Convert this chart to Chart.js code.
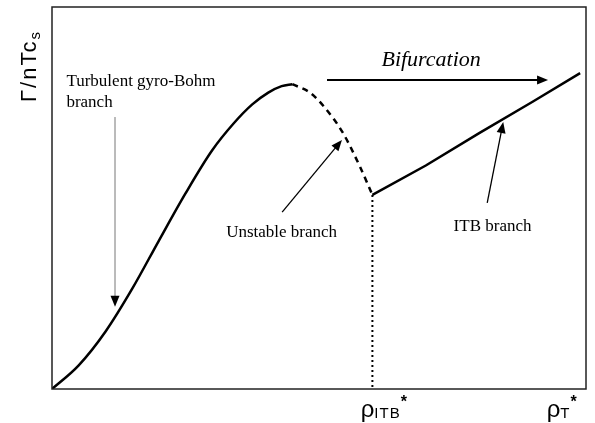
<!DOCTYPE html>
<html>
<head>
<meta charset="utf-8">
<script src="https://cdn.jsdelivr.net/npm/chart.js@4/dist/chart.umd.min.js"></script>
<style>
  html, body { margin: 0; padding: 0; background: #fff; }
  #wrap { width: 595px; height: 423px; }
</style>
</head>
<body>
<div id="wrap"><canvas id="flux"></canvas></div>
<script>
// flux vs. gradient: turbulent gyro-Bohm branch, unstable branch, ITB branch
const gyroX = [0, 0.5, 1.0, 1.5, 2.0, 2.5, 3.0, 3.4, 3.75, 4.05, 4.3, 4.5];
const gyroY = [0, 0.62, 1.50, 2.62, 3.88, 5.12, 6.25, 6.95, 7.45, 7.76, 7.93, 7.98];
const unstableX = [4.5, 4.84, 5.10, 5.45, 5.77, 6.00];
const unstableY = [7.98, 7.75, 7.38, 6.70, 5.81, 5.08];
const itbX = [6.00, 7.00, 8.00, 9.00, 9.89];
const itbY = [5.08, 5.85, 6.70, 7.52, 8.27];
const dropX = [6.00, 6.00];
const dropY = [5.08, 0];
const tickX = [6.24, 9.57];
const tickMain = ['\u03C1', '\u03C1'];
const tickSub = ['ITB', 'T'];

const pts = (xs, ys) => xs.map((x, i) => ({ x: x, y: ys[i] }));

// annotation arrows and captions (data units)
const arrows = [
  { from: [1.18, 7.12], to: [1.18, 2.15], color: '#777', width: 1 },
  { from: [4.31, 4.63], to: [5.43, 6.52], color: '#000', width: 1.3 },
  { from: [8.15, 4.87], to: [8.45, 6.99], color: '#000', width: 1.3 },
  { from: [5.15, 8.09], to: [9.29, 8.09], color: '#000', width: 2 }
];
const captions = [
  { text: 'Turbulent gyro-Bohm', at: [0.27, 8.05], font: '17px "Liberation Serif"', align: 'left' },
  { text: 'branch', at: [0.27, 7.50], font: '17px "Liberation Serif"', align: 'left' },
  { text: 'Unstable branch', at: [4.30, 4.10], font: '17px "Liberation Serif"', align: 'center' },
  { text: 'ITB branch', at: [8.25, 4.25], font: '17px "Liberation Serif"', align: 'center' },
  { text: 'Bifurcation', at: [7.10, 8.61], font: 'italic 22px "Liberation Serif"', align: 'center' }
];

function arrowHead(ctx, x1, y1, x2, y2, len, half) {
  const a = Math.atan2(y2 - y1, x2 - x1);
  ctx.beginPath();
  ctx.moveTo(x2, y2);
  ctx.lineTo(x2 - len * Math.cos(a) + half * Math.sin(a), y2 - len * Math.sin(a) - half * Math.cos(a));
  ctx.lineTo(x2 - len * Math.cos(a) - half * Math.sin(a), y2 - len * Math.sin(a) + half * Math.cos(a));
  ctx.closePath();
  ctx.fillStyle = '#000';
  ctx.fill();
}

const decor = {
  id: 'decor',
  afterDatasetsDraw(chart) {
    const ctx = chart.ctx;
    const a = chart.chartArea;
    const xs = chart.scales.x, ys = chart.scales.y;
    ctx.save();

    // frame
    ctx.strokeStyle = '#222';
    ctx.lineWidth = 1.5;
    ctx.strokeRect(a.left, a.top, a.right - a.left, a.bottom - a.top);

    // arrows
    arrows.forEach(ar => {
      const x1 = xs.getPixelForValue(ar.from[0]), y1 = ys.getPixelForValue(ar.from[1]);
      const x2 = xs.getPixelForValue(ar.to[0]), y2 = ys.getPixelForValue(ar.to[1]);
      const ang = Math.atan2(y2 - y1, x2 - x1);
      ctx.strokeStyle = ar.color;
      ctx.lineWidth = ar.width;
      ctx.beginPath();
      ctx.moveTo(x1, y1);
      ctx.lineTo(x2 - 8 * Math.cos(ang), y2 - 8 * Math.sin(ang));
      ctx.stroke();
      arrowHead(ctx, x1, y1, x2, y2, 11, 4.5);
    });

    // captions
    ctx.fillStyle = '#000';
    ctx.textBaseline = 'middle';
    captions.forEach(c => {
      ctx.font = c.font;
      ctx.textAlign = c.align;
      ctx.fillText(c.text, xs.getPixelForValue(c.at[0]), ys.getPixelForValue(c.at[1]));
    });

    // x tick labels: rho with subscript and star
    ctx.textAlign = 'left';
    ctx.textBaseline = 'alphabetic';
    tickX.forEach((v, i) => {
      ctx.letterSpacing = '0px';
      ctx.font = '24px "Liberation Sans"';
      const wMain = ctx.measureText(tickMain[i]).width;
      ctx.letterSpacing = '1px';
      ctx.font = '15px "Liberation Sans"';
      const wSub = ctx.measureText(tickSub[i]).width;
      const total = wMain + wSub + 9;
      let x = xs.getPixelForValue(v) - total / 2;
      const base = a.bottom + 28;
      ctx.letterSpacing = '0px';
      ctx.font = '24px "Liberation Sans"';
      ctx.fillText(tickMain[i], x, base);
      x += wMain;
      ctx.letterSpacing = '1px';
      ctx.font = '15px "Liberation Sans"';
      ctx.fillText(tickSub[i], x, base + 1);
      ctx.letterSpacing = '0px';
      ctx.font = 'bold 16px "Liberation Sans"';
      ctx.fillText('*', x + wSub, base - 10);
    });

    // y axis title, rotated
    ctx.translate(36, 102);
    ctx.rotate(-Math.PI / 2);
    ctx.letterSpacing = '2px';
    ctx.font = '22px "Liberation Sans"';
    ctx.fillText('\u0393/nTc', 0, 0);
    const w = ctx.measureText('\u0393/nTc').width;
    ctx.font = '15px "Liberation Sans"';
    ctx.fillText('s', w, 4);
    ctx.restore();
  }
};

new Chart(document.getElementById('flux'), {
  type: 'line',
  data: {
    datasets: [
      { data: pts(gyroX, gyroY), borderColor: '#000', borderWidth: 2.5, cubicInterpolationMode: 'monotone' },
      { data: pts(unstableX, unstableY), borderColor: '#000', borderWidth: 2.5, borderDash: [6, 5], cubicInterpolationMode: 'monotone' },
      { data: pts(itbX, itbY), borderColor: '#000', borderWidth: 2.5, tension: 0 },
      { data: pts(dropX, dropY), borderColor: '#000', borderWidth: 2, borderDash: [2, 3] }
    ]
  },
  options: {
    responsive: true,
    maintainAspectRatio: false,
    animation: false,
    layout: { padding: { left: 52, right: 9, top: 7, bottom: 34 } },
    elements: { point: { radius: 0 }, line: { fill: false, borderCapStyle: 'butt' } },
    plugins: { legend: { display: false }, tooltip: { enabled: false } },
    scales: {
      x: { type: 'linear', display: false, min: 0, max: 10 },
      y: { type: 'linear', display: false, min: 0, max: 10 }
    }
  },
  plugins: [decor]
});
</script>
</body>
</html>
